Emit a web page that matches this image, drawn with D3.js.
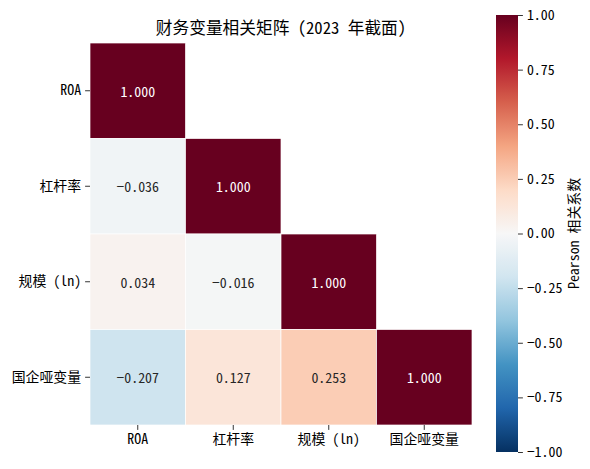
<!DOCTYPE html>
<html><head><meta charset="utf-8">
<script src="https://cdn.jsdelivr.net/npm/d3@7/dist/d3.min.js"></script>
<style>
body{margin:0;background:#fff;}
text{font-family:"Noto Sans CJK SC",sans-serif;fill:#000;font-feature-settings:"hwid" 1;}
</style></head>
<body><svg id="c" width="590" height="469"></svg>
<script>
const variables = ["ROA", "杠杆率", "规模 (ln)", "国企哑变量"];
const corrRows = [
  [1.000],
  [-0.036, 1.000],
  [0.034, -0.016, 1.000],
  [-0.207, 0.127, 0.253, 1.000]
];
const colorbarTicks = [-1.00, -0.75, -0.50, -0.25, 0.00, 0.25, 0.50, 0.75, 1.00];
const title = "财务变量相关矩阵 (2023 年截面)";
const cbarLabel = "Pearson 相关系数";

const svg = d3.select("#c");
const L = 90, R = 472, T = 43, B = 425;
const x = d3.scaleBand().domain(variables).range([L, R]).padding(0);
const y = d3.scaleBand().domain(variables).range([T, B]).padding(0);

const rdbu = d3.schemeRdBu[11].slice().reverse();
const color = d3.scaleLinear()
  .domain(d3.range(11).map(i => -1 + i * 0.2))
  .range(rdbu).interpolate(d3.interpolateRgb).clamp(true);

const cells = [];
corrRows.forEach((row, i) => row.forEach((v, j) => cells.push({r: variables[i], c: variables[j], v})));

svg.append("g").selectAll("rect").data(cells).join("rect")
  .attr("x", d => x(d.c)).attr("y", d => y(d.r))
  .attr("width", x.bandwidth()).attr("height", y.bandwidth())
  .attr("fill", d => color(d.v))
  .attr("stroke", "#fff").attr("stroke-width", 0.7);

function lum(c) {
  const rgb = d3.rgb(c);
  const f = u => { u /= 255; return u <= 0.03928 ? u / 12.92 : Math.pow((u + 0.055) / 1.055, 2.4); };
  return 0.2126 * f(rgb.r) + 0.7152 * f(rgb.g) + 0.0722 * f(rgb.b);
}

const minus = s => s.replace("-", "\u2212");

svg.append("g").selectAll("text").data(cells).join("text")
  .attr("x", d => x(d.c) + x.bandwidth() / 2)
  .attr("y", d => y(d.r) + y.bandwidth() / 2)
  .attr("text-anchor", "middle").attr("dominant-baseline", "central")
  .attr("font-size", 13.9)
  .style("fill", d => lum(color(d.v)) > 0.408 ? "#262626" : "#ffffff")
  .text(d => minus(d3.format(".3f")(d.v)));

// axes
const yAxis = d3.axisLeft(y).tickSize(4.9).tickPadding(4);
const gy = svg.append("g").attr("transform", `translate(${L},0)`).call(yAxis);
const xAxis = d3.axisBottom(x).tickSize(4.9).tickPadding(4);
const gx = svg.append("g").attr("transform", `translate(0,${B})`).call(xAxis);
[gx, gy].forEach(g => {
  g.select(".domain").remove();
  g.selectAll(".tick line").attr("stroke", "#000").attr("stroke-width", 0.8);
  g.selectAll(".tick text").attr("font-size", 13.9).attr("font-family", null).style("fill", "#000");
});

// title
svg.append("text").attr("x", (L + R) / 2).attr("y", 34)
  .attr("text-anchor", "middle").attr("font-size", 16.7).text(title);

// colorbar
const cbL = 496, cbW = 22, cbT = 15, cbB = 452;
const cy = d3.scaleLinear().domain([-1, 1]).range([cbB, cbT]);
const defs = svg.append("defs");
const grad = defs.append("linearGradient").attr("id", "g").attr("x1", 0).attr("y1", 1).attr("x2", 0).attr("y2", 0);
d3.range(0, 1.0001, 0.02).forEach(t => {
  grad.append("stop").attr("offset", t).attr("stop-color", color(-1 + 2 * t));
});
svg.append("rect").attr("x", cbL).attr("y", cbT).attr("width", cbW).attr("height", cbB - cbT).attr("fill", "url(#g)");
const cAxis = d3.axisRight(cy).tickValues(colorbarTicks).tickSize(4.9).tickPadding(4)
  .tickFormat(d => minus(d3.format(".2f")(d)));
const gc = svg.append("g").attr("transform", `translate(${cbL + cbW},0)`).call(cAxis);
gc.select(".domain").remove();
gc.selectAll(".tick line").attr("stroke", "#000").attr("stroke-width", 0.8);
gc.selectAll(".tick text").attr("font-size", 13.9).attr("font-family", null).style("fill", "#000");

svg.append("text")
  .attr("transform", `translate(573,${(cbT + cbB) / 2}) rotate(-90)`)
  .attr("text-anchor", "middle").attr("dominant-baseline", "central")
  .attr("font-size", 13.9).text(cbarLabel);
</script></body></html>
